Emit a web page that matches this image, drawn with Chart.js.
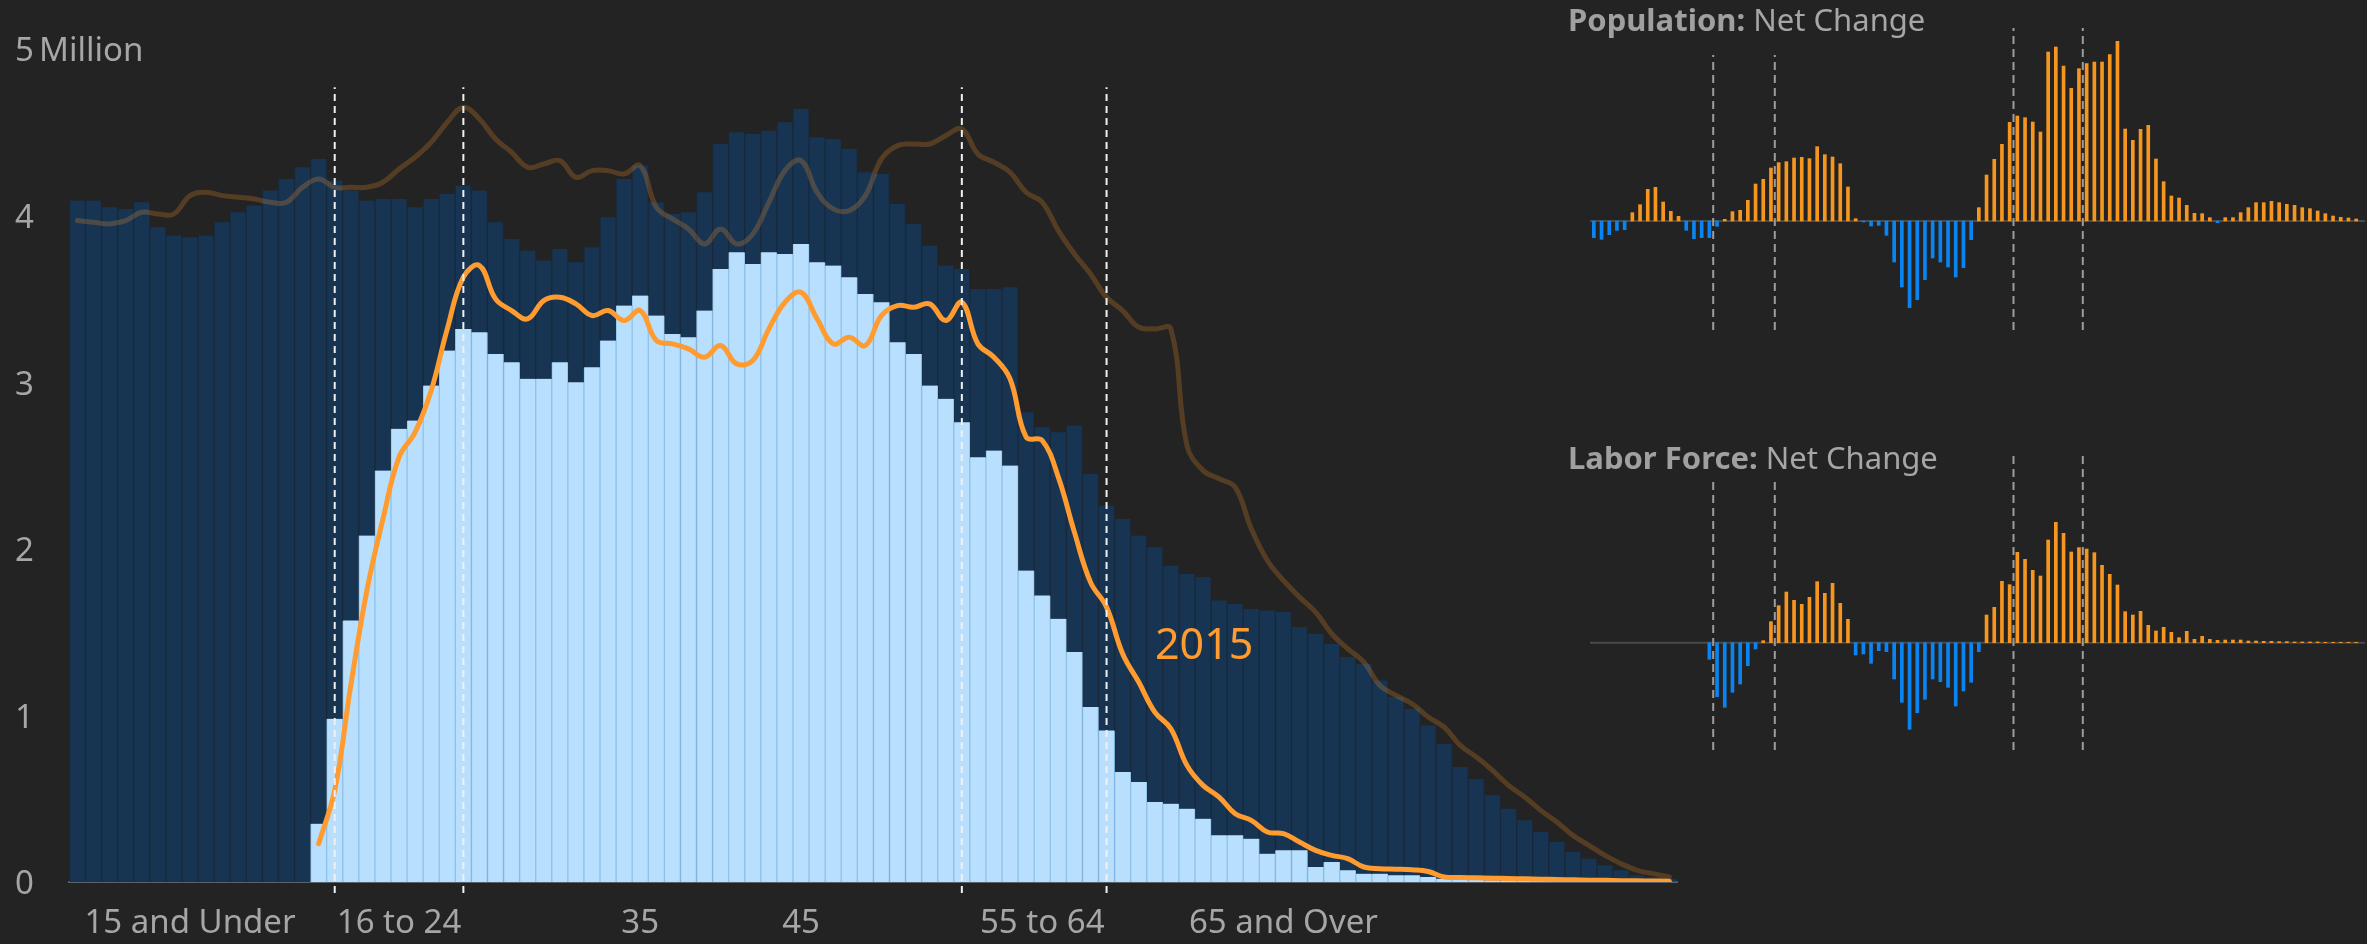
<!DOCTYPE html>
<html>
<head>
<meta charset="utf-8">
<script src="https://cdn.jsdelivr.net/npm/chart.js@4.4.1/dist/chart.umd.min.js"></script>
<style>
html,body{margin:0;padding:0;background:#232323;width:2367px;height:944px;overflow:hidden;font-family:"Noto Sans",sans-serif;}
canvas{position:absolute;}
#main{left:0;top:0;}
#pop{left:1590px;top:26px;}
#lab{left:1590px;top:452px;}
.title{position:absolute;left:1568px;font-size:31px;line-height:31px;color:#a6a6a6;white-space:nowrap;}
.title b{font-weight:700;color:#a0a0a0;}
#unit{position:absolute;left:39px;top:32px;font-size:33px;line-height:33px;color:#a6a6a6;white-space:nowrap;}
#lbl2015{position:absolute;left:1155px;top:621px;font-size:43px;line-height:43px;color:#ff9b2f;white-space:nowrap;}
</style>
</head>
<body>
<canvas id="main" width="1700" height="944" style="width:1700px;height:944px"></canvas>
<canvas id="pop" width="775" height="304" style="width:775px;height:304px"></canvas>
<canvas id="lab" width="775" height="298" style="width:775px;height:298px"></canvas>
<div class="title" style="top:4px"><b>Population:</b> Net Change</div>
<div class="title" style="top:442px"><b>Labor Force:</b> Net Change</div>
<div id="unit">Million</div>
<div id="lbl2015">2015</div>
<script>
// ---------- categories (single years of age) ----------
const ages = Array.from({length: 100}, (_, i) => i);

// ---------- main chart: millions of people ----------
const population = [
  4.09,4.09,4.05,4.04,4.08,3.93,3.88,3.87,3.88,3.96,
  4.02,4.06,4.15,4.22,4.29,4.34,4.21,4.15,4.09,4.10,
  4.10,4.05,4.10,4.13,4.18,4.15,3.96,3.86,3.79,3.73,
  3.80,3.72,3.81,3.99,4.22,4.30,4.08,4.01,4.02,4.14,
  4.43,4.50,4.49,4.51,4.56,4.64,4.47,4.46,4.40,4.26,
  4.25,4.07,3.95,3.82,3.70,3.68,3.56,3.56,3.57,2.82,
  2.73,2.70,2.74,2.45,2.26,2.18,2.08,2.01,1.90,1.85,
  1.83,1.69,1.67,1.64,1.63,1.62,1.53,1.49,1.43,1.35,
  1.31,1.21,1.11,1.04,0.94,0.83,0.69,0.62,0.52,0.44,
  0.37,0.30,0.24,0.18,0.14,0.10,0.07,0.04,0.03,0.02
];
const laborForce = [
  null,null,null,null,null,null,null,null,null,null,
  null,null,null,null,null,0.35,0.98,1.57,2.08,2.47,
  2.72,2.77,2.98,3.19,3.32,3.30,3.17,3.12,3.02,3.02,
  3.12,3.00,3.09,3.25,3.46,3.52,3.40,3.29,3.27,3.43,
  3.68,3.78,3.71,3.78,3.77,3.83,3.72,3.70,3.63,3.53,
  3.48,3.24,3.17,2.98,2.90,2.76,2.55,2.59,2.50,1.87,
  1.72,1.58,1.38,1.05,0.91,0.66,0.60,0.48,0.47,0.44,
  0.38,0.28,0.28,0.26,0.17,0.19,0.19,0.09,0.12,0.07,
  0.05,0.05,0.04,0.04,0.03,0.02,0.015,0.012,0.01,0.01,
  0.008,0.007,0.006,0.005,0.004,0.003,0.002,0.002,0.001,0.001
];
const laborForce2015 = [
  null,null,null,null,null,null,null,null,null,null,
  null,null,null,null,null,0.23,0.55,1.18,1.75,2.18,
  2.55,2.70,2.95,3.32,3.63,3.70,3.50,3.43,3.38,3.49,
  3.51,3.47,3.40,3.43,3.37,3.43,3.25,3.23,3.20,3.15,
  3.22,3.11,3.13,3.32,3.48,3.54,3.38,3.23,3.27,3.22,
  3.40,3.46,3.45,3.47,3.37,3.48,3.23,3.15,3.02,2.67,
  2.65,2.43,2.10,1.80,1.65,1.37,1.20,1.02,0.92,0.70,
  0.58,0.51,0.41,0.37,0.30,0.29,0.24,0.19,0.16,0.14,
  0.09,0.08,0.077,0.073,0.063,0.03,0.027,0.025,0.023,0.021,
  0.019,0.017,0.015,0.013,0.011,0.010,0.008,0.007,0.006,0.005
];
const population2015 = [
  3.97,3.96,3.95,3.97,4.02,4.01,4.01,4.12,4.14,4.12,
  4.11,4.10,4.08,4.08,4.17,4.22,4.17,4.17,4.17,4.20,
  4.28,4.35,4.44,4.56,4.65,4.58,4.46,4.38,4.29,4.31,
  4.33,4.23,4.27,4.27,4.25,4.30,4.05,3.98,3.92,3.83,
  3.92,3.83,3.89,4.08,4.27,4.33,4.14,4.04,4.03,4.12,
  4.34,4.42,4.43,4.43,4.48,4.52,4.37,4.32,4.26,4.14,
  4.08,3.91,3.77,3.65,3.51,3.43,3.33,3.32,3.32,2.62,
  2.47,2.42,2.37,2.12,1.93,1.81,1.71,1.62,1.49,1.40,
  1.32,1.18,1.12,1.07,0.99,0.93,0.82,0.75,0.67,0.58,
  0.51,0.43,0.36,0.28,0.22,0.16,0.11,0.07,0.05,0.03
];
// group boundaries (ages) shown as dashed lines
const groupBreaks = [16, 24, 55, 64];
// x tick labels
const xTickAges = [7, 20, 35, 45, 60, 75];
const xTickLabels = ['15 and Under', '16 to 24', '35', '45', '55 to 64', '65 and Over'];
const yTickLabels = ['0', '1', '2', '3', '4', '5'];

// ---------- net change panels: thousands of people ----------
const popNetChange = [
  -50,-55,-41,-28,-26,25,49,95,101,57,
  29,14,-28,-53,-50,-50,-16,5,28,32,
  62,111,125,159,175,178,189,191,187,223,
  199,192,172,102,7,-3,-15,-13,-43,-123,
  -198,-260,-236,-176,-111,-123,-138,-168,-140,-56,
  40,138,185,230,296,315,310,297,267,507,
  522,465,398,457,472,477,477,499,539,276,
  242,275,287,186,118,75,69,47,23,22,
  10,-5,10,10,25,40,55,55,59,55,
  50,47,40,37,30,22,15,11,9,6
];
const laborNetChange = [
  null,null,null,null,null,null,null,null,null,null,
  null,null,null,null,null,-50,-162,-194,-149,-124,
  -69,-19,6,63,111,152,127,115,136,183,
  148,178,118,70,-37,-34,-62,-24,-27,-109,
  -179,-260,-210,-170,-109,-117,-134,-190,-145,-119,
  -27,83,106,184,174,271,250,217,200,308,
  361,328,272,285,281,270,232,205,173,93,
  83,94,52,35,46,31,15,34,10,19,
  10,7,8,8,8,5,5,4,4,3,
  3,2,2,2,2,1,1,1,1,1
];

const FONT = '"Noto Sans", sans-serif';
const toXY = arr => ages.map((a, i) => ({x: a, y: arr[i]})).filter(p => p.y !== null && p.y !== undefined);

// ---------- main chart ----------
const dashMain = groupBreaks.map(a => ({
  type: 'line',
  data: [{x: a, y: -0.066}, {x: a, y: 4.77}],
  borderColor: '#f0f0f0', borderWidth: 2, borderDash: [7, 5],
  pointRadius: 0, clip: false, order: 0
}));

new Chart(document.getElementById('main'), {
  data: {
    datasets: [
      {type: 'bar', data: toXY(population), backgroundColor: '#173552', borderColor: '#1a293a',
       borderWidth: {left: 1, right: 1, top: 0, bottom: 0}, borderSkipped: false,
       grouped: false, barPercentage: 1, categoryPercentage: 1, order: 6},
      {type: 'line', data: toXY(population2015), borderColor: 'rgba(255,150,45,0.23)', borderWidth: 5,
       tension: 0.4, pointRadius: 0, borderCapStyle: 'round', order: 5},
      {type: 'bar', data: toXY(laborForce), backgroundColor: '#b8e0fe', borderColor: '#8fc2ea',
       borderWidth: {left: 1, right: 1, top: 0, bottom: 0}, borderSkipped: false,
       grouped: false, barPercentage: 1, categoryPercentage: 1, order: 4},
      {type: 'line', data: toXY(laborForce2015), borderColor: '#ff9b2f', borderWidth: 5,
       tension: 0.4, pointRadius: 0, borderCapStyle: 'round', borderJoinStyle: 'round', order: 2},
      ...dashMain
    ]
  },
  options: {
    responsive: false, animation: false, events: [],
    layout: {padding: {left: 15, right: 22.6, top: 49, bottom: 0}},
    plugins: {legend: {display: false}, tooltip: {enabled: false}},
    scales: {
      x: {
        type: 'linear', min: -0.5, max: 99.5, offset: false,
        grid: {display: false, drawTicks: false},
        border: {display: true, color: '#59616b', width: 2},
        afterBuildTicks: s => { s.ticks = xTickAges.map(v => ({value: v})); },
        afterFit: s => { s.height = 62; },
        ticks: {
          autoSkip: false, maxRotation: 0, minRotation: 0, padding: 22,
          color: '#a6a6a6', font: {family: FONT, size: 33},
          callback: (v, i) => xTickLabels[i]
        }
      },
      y: {
        type: 'linear', min: 0, max: 5,
        grid: {display: false, drawTicks: false},
        border: {display: false},
        afterFit: s => { s.width = 54.4; },
        ticks: {
          stepSize: 1, padding: 0, crossAlign: 'far', labelOffset: 3,
          color: '#a6a6a6', font: {family: FONT, size: 33},
          callback: v => yTickLabels[v]
        }
      }
    }
  }
});

// ---------- net change panels ----------
function netPanel(id, values, yMin, yMax, dashTops) {
  const dashes = groupBreaks.map((a, k) => ({
    type: 'line',
    data: [{x: a - 0.5, y: yMin}, {x: a - 0.5, y: dashTops[k]}],
    borderColor: '#9c9c9c', borderWidth: 2, borderDash: [8, 5],
    pointRadius: 0, clip: false, order: 0
  }));
  new Chart(document.getElementById(id), {
    data: {
      datasets: [
        {type: 'line', data: [{x: -0.5, y: 0}, {x: 100.15, y: 0}], borderColor: '#4a4a4a',
         borderWidth: 2, pointRadius: 0, order: 3},
        {type: 'bar', data: toXY(values),
         backgroundColor: c => (c.raw && c.raw.y < 0) ? '#0a84f0' : '#f7961e',
         barThickness: 3, grouped: false, order: 2},
        ...dashes
      ]
    },
    options: {
      responsive: false, animation: false, events: [],
      layout: {padding: 0},
      plugins: {legend: {display: false}, tooltip: {enabled: false}},
      scales: {
        x: {type: 'linear', display: false, min: -0.5, max: 100.15, offset: false},
        y: {type: 'linear', display: false, min: yMin, max: yMax}
      }
    }
  });
}
netPanel('pop', popNetChange, -327, 585, [498, 498, 579, 579]);
netPanel('lab', laborNetChange, -322, 572, [494, 494, 572, 572]);
</script>
</body>
</html>
